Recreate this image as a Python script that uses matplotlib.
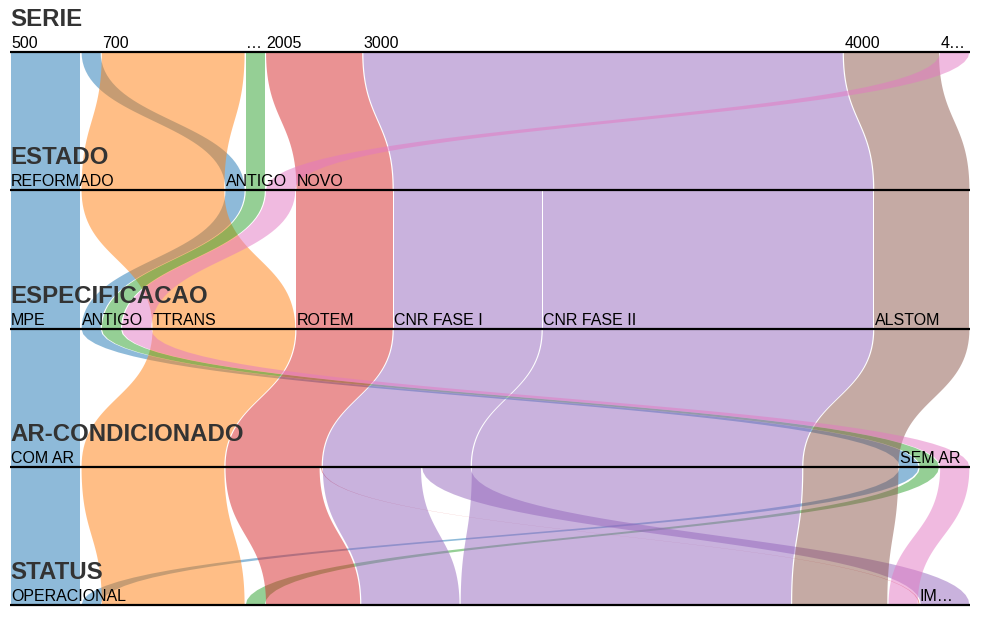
import matplotlib
matplotlib.use("Agg")
import matplotlib.pyplot as plt
import numpy as np
from matplotlib.patches import Polygon

plt.rcParams['font.family'] = ['Liberation Sans', 'DejaVu Sans']

# dimensions and their categories (display order)
dimensions = ["SERIE", "ESTADO", "ESPECIFICACAO", "AR-CONDICIONADO", "STATUS"]
categories = [
    ["500", "700", "…", "2005", "3000", "4000", "4…"],
    ["REFORMADO", "ANTIGO", "NOVO"],
    ["MPE", "ANTIGO", "TTRANS", "ROTEM", "CNR FASE I", "CNR FASE II", "ALSTOM"],
    ["COM AR", "SEM AR"],
    ["OPERACIONAL", "IM…"],
]
# each path: (serie, estado, especificacao, ar, status), count
paths = [
    ("500", "REFORMADO", "MPE", "COM AR", "OPERACIONAL"),
    ("500", "ANTIGO", "ANTIGO", "SEM AR", "OPERACIONAL"),
    ("700", "REFORMADO", "TTRANS", "COM AR", "OPERACIONAL"),
    ("…", "ANTIGO", "ANTIGO", "SEM AR", "OPERACIONAL"),
    ("2005", "NOVO", "ROTEM", "COM AR", "OPERACIONAL"),
    ("2005", "NOVO", "ROTEM", "COM AR", "IM…"),
    ("3000", "NOVO", "CNR FASE I", "COM AR", "OPERACIONAL"),
    ("3000", "NOVO", "CNR FASE I", "COM AR", "IM…"),
    ("3000", "NOVO", "CNR FASE II", "COM AR", "OPERACIONAL"),
    ("4000", "NOVO", "ALSTOM", "COM AR", "OPERACIONAL"),
    ("4…", "ANTIGO", "ANTIGO", "SEM AR", "OPERACIONAL"),
]
counts = [70, 20, 142, 20, 94, 2, 98, 49, 327, 95, 30]
serie_colors = ["tab:blue", "tab:orange", "tab:green", "tab:red",
                "tab:purple", "tab:brown", "tab:pink"]

W, H = 984, 619
x0, x1 = 10, 970
axis_y = [52, 190, 329, 467, 605]

total = sum(counts)
scale = (x1 - x0) / total
nd = len(dimensions)
idx = [[categories[d].index(p[d]) for d in range(nd)] for p in paths]

# x-interval of every path at every axis
pos = np.zeros((len(paths), nd, 2))
cat_start = []
for d in range(nd):
    order = sorted(range(len(paths)),
                   key=lambda k: [idx[k][d]] + idx[k][:d] + idx[k][d + 1:])
    x = x0
    starts = {}
    for k in order:
        starts.setdefault(idx[k][d], x)
        pos[k, d] = (x, x + counts[k] * scale)
        x += counts[k] * scale
    cat_start.append(starts)

fig = plt.figure(figsize=(W / 100, H / 100), dpi=100)
ax = fig.add_axes([0, 0, 1, 1])
ax.set_xlim(0, W)
ax.set_ylim(H, 0)
ax.axis("off")

t = np.linspace(0, 1, 40)


def bez(xa, xb, ya, yb):
    ym = (ya + yb) / 2
    bx = (1 - t) ** 3 * xa + 3 * (1 - t) ** 2 * t * xa + 3 * (1 - t) * t ** 2 * xb + t ** 3 * xb
    by = (1 - t) ** 3 * ya + 3 * (1 - t) ** 2 * t * ym + 3 * (1 - t) * t ** 2 * ym + t ** 3 * yb
    return bx, by


pad = 0.6
for d in range(nd - 1):
    groups = {}
    for k in range(len(paths)):
        groups.setdefault(tuple(idx[k][:d + 2]), []).append(k)
    for key, ks in groups.items():
        ta = min(pos[k, d, 0] for k in ks) + pad
        tb = max(pos[k, d, 1] for k in ks) - pad
        ba = min(pos[k, d + 1, 0] for k in ks) + pad
        bb = max(pos[k, d + 1, 1] for k in ks) - pad
        lx, ly = bez(ta, ba, axis_y[d], axis_y[d + 1])
        rx, ry = bez(tb, bb, axis_y[d], axis_y[d + 1])
        pts = np.column_stack([np.r_[lx, rx[::-1]], np.r_[ly, ry[::-1]]])
        ax.add_patch(Polygon(pts, closed=True, facecolor=serie_colors[key[0]],
                             alpha=0.5, edgecolor="none", zorder=1))

for d in range(nd):
    y = axis_y[d]
    ax.plot([x0, x1], [y, y], color="black", lw=1.6, zorder=3, solid_capstyle="butt")
    ax.text(x0, y - 26, dimensions[d], fontsize=17.3, fontweight="bold",
            color="#333333", va="baseline", ha="left", zorder=4)
    for ci, xs in cat_start[d].items():
        ax.text(xs + 1, y - 4, categories[d][ci], fontsize=11.5, color="black",
                va="baseline", ha="left", zorder=4)

fig.savefig("out.png", dpi=100)
